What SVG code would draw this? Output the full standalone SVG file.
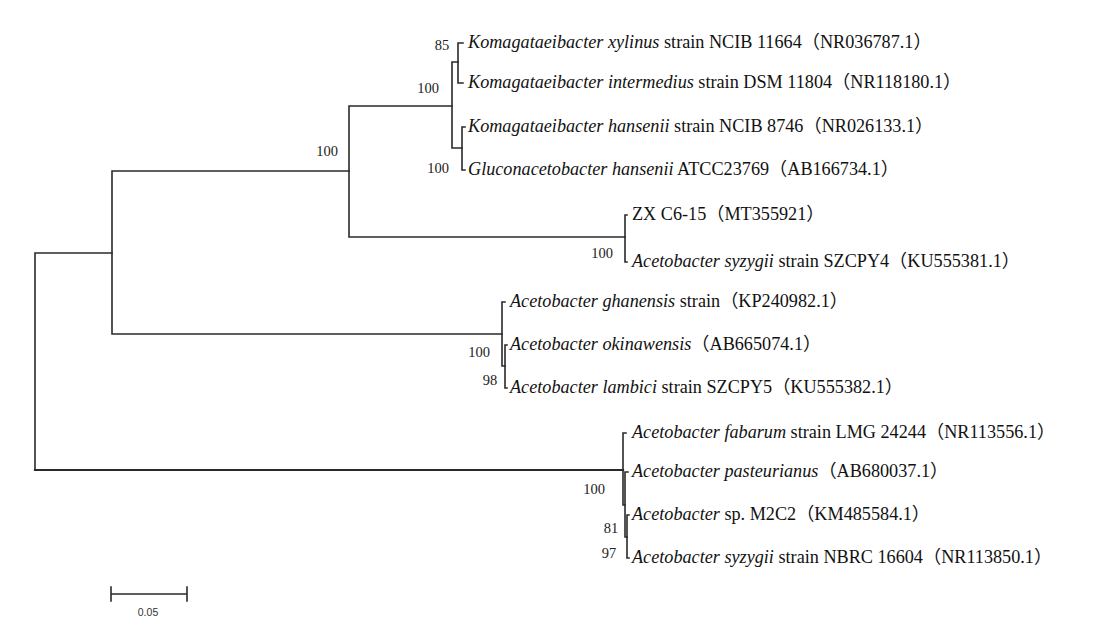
<svg xmlns="http://www.w3.org/2000/svg" width="1116" height="642" viewBox="0 0 1116 642">
<style>
.br{fill:none;stroke:#2a2a2a;stroke-width:1.6;stroke-linecap:square}
.lf{font-family:"Liberation Serif","Noto Sans CJK SC",serif;font-size:18.2px;fill:#111}
.bs{font-family:"Liberation Serif",serif;font-size:14.5px;fill:#222;text-anchor:middle}
.sc{font-family:"Liberation Sans",sans-serif;font-size:10.5px;fill:#333;text-anchor:middle}
</style>
<rect width="1116" height="642" fill="#fff"/>
<g id="connectors">
<path class="br" d="M35,253 V470 M35,253 H112"/>
<path class="br" style="stroke-width:2.2" d="M35,470 H623"/>
<path class="br" d="M112,171 V334 M112,171 H349 M112,334 H502"/>
<path class="br" d="M349,106 V237 M349,106 H452 M349,237 H625"/>
<path class="br" d="M452,62 V148 M452,62 H458 M452,148 H462"/>
<path class="br" d="M458,43 V83 M458,43 H463 M458,83 H463"/>
<path class="br" d="M462,127 V170 M462,127 H465 M462,170 H465"/>
<path class="br" d="M625,215 V262 M625,215 H627 M625,262 H627"/>
<path class="br" d="M502,302 V366 M502,302 H505 M502,366 H505"/>
<path class="br" d="M505,345 V388 M505,345 H507 M505,388 H507"/>
<path class="br" d="M623,433 V505 M623,433 H626 M623,505 H625"/>
<path class="br" d="M625,472 V537 M625,472 H628 M625,537 H627"/>
<path class="br" d="M627,515 V558 M627,515 H629 M627,558 H629"/>
</g>
<g id="bootstrap">
<text class="bs" x="442" y="50">85</text>
<text class="bs" x="428" y="93">100</text>
<text class="bs" x="438" y="173">100</text>
<text class="bs" x="327" y="156">100</text>
<text class="bs" x="602" y="258">100</text>
<text class="bs" x="479" y="357">100</text>
<text class="bs" x="490" y="385">98</text>
<text class="bs" x="594" y="494">100</text>
<text class="bs" x="611" y="533">81</text>
<text class="bs" x="609" y="558">97</text>
</g>
<g id="leaf1"><text class="lf" x="468" y="48"><tspan font-style="italic">Komagataeibacter xylinus</tspan> strain NCIB 11664（NR036787.1）</text></g>
<g id="leaf2"><text class="lf" x="468" y="88"><tspan font-style="italic">Komagataeibacter intermedius</tspan> strain DSM 11804（NR118180.1）</text></g>
<g id="leaf3"><text class="lf" x="468" y="132"><tspan font-style="italic">Komagataeibacter hansenii</tspan> strain NCIB 8746（NR026133.1）</text></g>
<g id="leaf4"><text class="lf" x="468" y="175"><tspan font-style="italic">Gluconacetobacter hansenii</tspan> ATCC23769（AB166734.1）</text></g>
<g id="leaf5"><text class="lf" x="632" y="220">ZX C6-15（MT355921）</text></g>
<g id="leaf6"><text class="lf" x="632" y="267"><tspan font-style="italic">Acetobacter syzygii</tspan> strain SZCPY4（KU555381.1）</text></g>
<g id="leaf7"><text class="lf" x="510" y="307"><tspan font-style="italic">Acetobacter ghanensis</tspan> strain（KP240982.1）</text></g>
<g id="leaf8"><text class="lf" x="510" y="350"><tspan font-style="italic">Acetobacter okinawensis</tspan>（AB665074.1）</text></g>
<g id="leaf9"><text class="lf" x="510" y="393"><tspan font-style="italic">Acetobacter lambici</tspan> strain SZCPY5（KU555382.1）</text></g>
<g id="leaf10"><text class="lf" x="632" y="438"><tspan font-style="italic">Acetobacter fabarum</tspan> strain LMG 24244（NR113556.1）</text></g>
<g id="leaf11"><text class="lf" x="632" y="477"><tspan font-style="italic">Acetobacter pasteurianus</tspan>（AB680037.1）</text></g>
<g id="leaf12"><text class="lf" x="632" y="520"><tspan font-style="italic">Acetobacter</tspan> sp. M2C2（KM485584.1）</text></g>
<g id="leaf13"><text class="lf" x="632" y="563"><tspan font-style="italic">Acetobacter syzygii</tspan> strain NBRC 16604（NR113850.1）</text></g>
<g id="scalebar">
<path class="br" d="M111,594 H187 M111,587 V601 M187,587 V601"/>
<text class="sc" x="148" y="616">0.05</text>
</g>
</svg>
